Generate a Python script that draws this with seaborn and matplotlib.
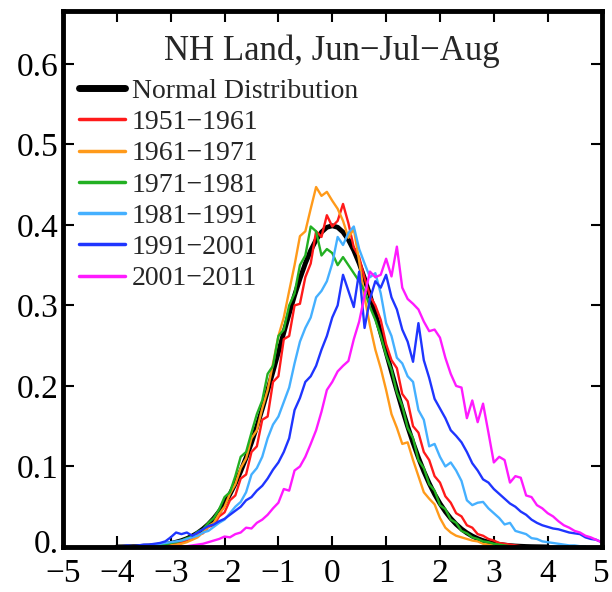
import numpy as np
import matplotlib
matplotlib.use("Agg")
import matplotlib.pyplot as plt
import matplotlib.transforms as mtransforms
import seaborn as sns

# ── Data: histogram bin centres, 0.1 sigma apart ──────────
bin_centers = np.round(np.arange(-40, 51) / 10, 1)

# normal distribution, -4.0 .. 4.0
normal_start = -4.0
normal_pdf = [0.0001, 0.0002, 0.0003, 0.0004, 0.0006, 0.0009, 0.0012, 0.0017, 0.0024, 0.0033,
              0.0044, 0.0060, 0.0079, 0.0104, 0.0136, 0.0175, 0.0224, 0.0283, 0.0355, 0.0440,
              0.0540, 0.0656, 0.0790, 0.0940, 0.1109, 0.1295, 0.1497, 0.1714, 0.1942, 0.2179,
              0.2420, 0.2661, 0.2897, 0.3123, 0.3332, 0.3521, 0.3683, 0.3814, 0.3910, 0.3970,
              0.3989,
              0.3970, 0.3910, 0.3814, 0.3683, 0.3521, 0.3332, 0.3123, 0.2897, 0.2661, 0.2420,
              0.2179, 0.1942, 0.1714, 0.1497, 0.1295, 0.1109, 0.0940, 0.0790, 0.0656, 0.0540,
              0.0440, 0.0355, 0.0283, 0.0224, 0.0175, 0.0136, 0.0104, 0.0079, 0.0060, 0.0044,
              0.0033, 0.0024, 0.0017, 0.0012, 0.0009, 0.0006, 0.0004, 0.0003, 0.0002, 0.0001]

# 1951-1961, -3.5 .. 3.5
start_1951 = -3.5
vals_1951 = [0.000, 0.001, 0.001, 0.002, 0.003, 0.002, 0.005, 0.006, 0.009, 0.010,
             0.016, 0.017, 0.025, 0.027, 0.038, 0.043, 0.058, 0.064, 0.085, 0.090,
             0.118, 0.125, 0.158, 0.162, 0.205, 0.212, 0.258, 0.262, 0.300, 0.302,
             0.335, 0.352, 0.392, 0.385, 0.412, 0.398, 0.405, 0.426, 0.402, 0.372,
             0.360, 0.334, 0.312, 0.300, 0.282, 0.252, 0.232, 0.222, 0.190, 0.181,
             0.150, 0.142, 0.118, 0.108, 0.088, 0.080, 0.063, 0.055, 0.042, 0.038,
             0.027, 0.024, 0.016, 0.014, 0.010, 0.008, 0.005, 0.004, 0.003, 0.002,
             0.001]

# 1961-1971, -3.0 .. 3.0
start_1961 = -3.0
vals_1961 = [0.002, 0.003, 0.004, 0.006, 0.009, 0.012, 0.018, 0.026, 0.030, 0.041,
             0.050, 0.066, 0.078, 0.098, 0.110, 0.135, 0.145, 0.172, 0.195, 0.228,
             0.262, 0.285, 0.318, 0.350, 0.386, 0.392, 0.420, 0.447, 0.436, 0.441,
             0.430, 0.420, 0.405, 0.384, 0.395, 0.355, 0.310, 0.275, 0.245, 0.222,
             0.195, 0.165, 0.148, 0.128, 0.130, 0.108, 0.088, 0.068, 0.060, 0.053,
             0.036, 0.024, 0.018, 0.014, 0.012, 0.010, 0.008, 0.007, 0.004, 0.003,
             0.002]

# 1971-1981, -3.4 .. 3.3
start_1971 = -3.4
vals_1971 = [0.001, 0.002, 0.003, 0.003, 0.005, 0.006, 0.008, 0.011, 0.013, 0.019,
             0.022, 0.030, 0.036, 0.047, 0.062, 0.068, 0.088, 0.112, 0.118, 0.142,
             0.165, 0.182, 0.215, 0.225, 0.262, 0.270, 0.300, 0.315, 0.350, 0.362,
             0.398, 0.392, 0.362, 0.370, 0.365, 0.350, 0.360, 0.350, 0.340, 0.330,
             0.318, 0.298, 0.282, 0.262, 0.238, 0.220, 0.192, 0.175, 0.148, 0.135,
             0.108, 0.098, 0.078, 0.070, 0.052, 0.047, 0.034, 0.030, 0.020, 0.017,
             0.012, 0.010, 0.007, 0.006, 0.004, 0.003, 0.002, 0.001]

# 1981-1991, -3.8 .. 4.7
start_1981 = -3.8
vals_1981 = [0.000, 0.001, 0.001, 0.002, 0.002, 0.003, 0.004, 0.005, 0.006, 0.007,
             0.008, 0.010, 0.012, 0.014, 0.018, 0.020, 0.025, 0.030, 0.034, 0.042,
             0.050, 0.056, 0.068, 0.090, 0.098, 0.112, 0.135, 0.152, 0.162, 0.180,
             0.198, 0.228, 0.255, 0.272, 0.285, 0.310, 0.318, 0.330, 0.352, 0.385,
             0.375, 0.390, 0.398, 0.370, 0.352, 0.335, 0.340, 0.315, 0.278, 0.262,
             0.235, 0.228, 0.212, 0.205, 0.170, 0.158, 0.125, 0.128, 0.112, 0.100,
             0.105, 0.095, 0.082, 0.058, 0.052, 0.055, 0.056, 0.048, 0.042, 0.036,
             0.028, 0.030, 0.020, 0.018, 0.016, 0.011, 0.010, 0.007, 0.006, 0.005,
             0.004, 0.003, 0.002, 0.002, 0.001, 0.001]

# 1991-2001, -4.0 .. 5.0
start_1991 = -4.0
vals_1991 = [0.000, 0.001, 0.002, 0.001, 0.002, 0.003, 0.003, 0.004, 0.005, 0.007,
             0.012, 0.018, 0.016, 0.018, 0.014, 0.018, 0.022, 0.026, 0.028, 0.032,
             0.035, 0.040, 0.045, 0.050, 0.058, 0.062, 0.070, 0.076, 0.085, 0.096,
             0.105, 0.118, 0.135, 0.170, 0.185, 0.205, 0.212, 0.225, 0.245, 0.262,
             0.285, 0.300, 0.338, 0.318, 0.298, 0.342, 0.272, 0.308, 0.330, 0.322,
             0.338, 0.310, 0.295, 0.270, 0.255, 0.230, 0.278, 0.232, 0.210, 0.184,
             0.172, 0.160, 0.145, 0.138, 0.130, 0.118, 0.104, 0.095, 0.084, 0.080,
             0.072, 0.066, 0.060, 0.054, 0.050, 0.044, 0.040, 0.034, 0.030, 0.027,
             0.025, 0.023, 0.022, 0.020, 0.018, 0.017, 0.016, 0.012, 0.010, 0.009,
             0.006]

# 2001-2011, -3.0 .. 5.0
start_2001 = -3.0
vals_2001 = [0.000, 0.001, 0.001, 0.001, 0.002, 0.003, 0.004, 0.006, 0.008, 0.010,
             0.013, 0.012, 0.016, 0.018, 0.024, 0.023, 0.030, 0.034, 0.040, 0.048,
             0.055, 0.072, 0.070, 0.095, 0.100, 0.112, 0.128, 0.145, 0.168, 0.195,
             0.205, 0.218, 0.225, 0.231, 0.258, 0.280, 0.312, 0.342, 0.335, 0.338,
             0.358, 0.336, 0.373, 0.322, 0.308, 0.302, 0.295, 0.280, 0.268, 0.270,
             0.260, 0.235, 0.215, 0.200, 0.198, 0.160, 0.182, 0.155, 0.178, 0.142,
             0.105, 0.112, 0.108, 0.080, 0.088, 0.086, 0.064, 0.062, 0.052, 0.048,
             0.042, 0.038, 0.032, 0.027, 0.024, 0.020, 0.018, 0.014, 0.012, 0.009,
             0.006]

periods = ['1951\u22121961', '1961\u22121971', '1971\u22121981',
           '1981\u22121991', '1991\u22122001', '2001\u22122011']
period_starts = [start_1951, start_1961, start_1971, start_1981, start_1991, start_2001]
period_vals = [vals_1951, vals_1961, vals_1971, vals_1981, vals_1991, vals_2001]
period_colors = ['#ff1a1a', '#ff9a1a', '#22b022', '#45b0ff', '#1f35ff', '#ff1aff']

xtick_vals = [-5, -4, -3, -2, -1, 0, 1, 2, 3, 4, 5]
xtick_labels = ['\u22125', '\u22124', '\u22123', '\u22122', '\u22121', '0', '1', '2', '3', '4', '5']
ytick_vals = [0.0, 0.1, 0.2, 0.3, 0.4, 0.5, 0.6]
ytick_labels = ['0.', '0.1', '0.2', '0.3', '0.4', '0.5', '0.6']


def centers(start, n):
    i0 = int(round((start - bin_centers[0]) * 10))
    x = bin_centers[i0:i0 + n]
    assert len(x) == n
    return x


# ── Plot ──────────────────────────────────────────────────
sns.set_style("ticks")
plt.rcParams['font.family'] = ['Liberation Serif', 'DejaVu Serif']
plt.rcParams['axes.unicode_minus'] = True

fig = plt.figure(figsize=(6.12, 5.92), dpi=100)
ax = fig.add_axes([0.1029, 0.076, 0.880, 0.906])

sns.lineplot(x=centers(normal_start, len(normal_pdf)), y=normal_pdf, color='black',
             lw=3.5, ax=ax, label='Normal Distribution')
for name, st, vals, col in zip(periods, period_starts, period_vals, period_colors):
    sns.lineplot(x=centers(st, len(vals)), y=vals, color=col, lw=1.7, ax=ax, label=name)

ax.set_xlim(-5, 5)
ax.set_ylim(0, 0.666)
ax.set_xticks(xtick_vals)
ax.set_xticklabels(xtick_labels)
ax.set_yticks(ytick_vals)
ax.set_yticklabels(ytick_labels)
ax.set_xlabel('')
ax.set_ylabel('')
ax.tick_params(direction='in', top=True, right=True, length=8, width=1.5,
               labelsize=24, colors='black')
ax.tick_params(axis='x', pad=8)
ax.tick_params(axis='y', pad=3)
for s in ax.spines.values():
    s.set_linewidth(3.5)
    s.set_color('black')

# nudge the "0." label up a little so it clears the "-5" below it
zero_lab = ax.get_yticklabels()[0]
zero_lab.set_transform(zero_lab.get_transform() +
                       mtransforms.ScaledTranslation(0, 4 / 72, fig.dpi_scale_trans))

ax.text(0.5, 0.925, 'NH Land, Jun\u2212Jul\u2212Aug', transform=ax.transAxes,
        ha='center', va='center', fontsize=25)

leg = ax.legend(loc='upper left', bbox_to_anchor=(0.03, 0.874), frameon=False, fontsize=20,
                handlelength=1.65, handletextpad=0.25, labelspacing=0.21,
                borderpad=0, borderaxespad=0)
leg.get_lines()[0].set_linewidth(5)
for ln in leg.get_lines()[1:]:
    ln.set_linewidth(2.5)

fig.savefig('out.png', dpi=100)
plt.close()
